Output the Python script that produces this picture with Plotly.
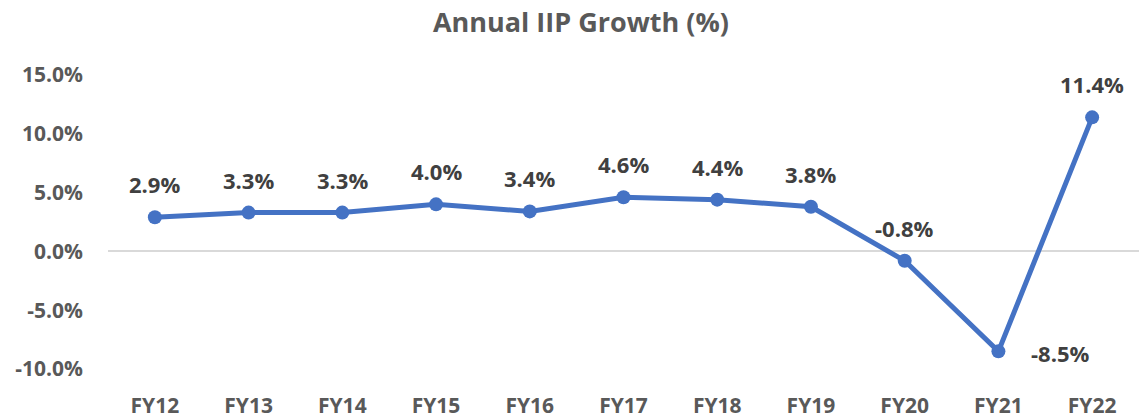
import plotly.graph_objects as go

categories = ["FY12", "FY13", "FY14", "FY15", "FY16", "FY17", "FY18", "FY19", "FY20", "FY21", "FY22"]
growth = [2.9, 3.3, 3.3, 4.0, 3.4, 4.6, 4.4, 3.8, -0.8, -8.5, 11.4]
y_ticks = [-10, -5, 0, 5, 10, 15]
y_tick_labels = ["-10.0%", "-5.0%", "0.0%", "5.0%", "10.0%", "15.0%"]

FONT = "Open Sans"
fig = go.Figure()
fig.add_trace(go.Scatter(
    x=categories, y=growth, mode="lines+markers",
    line=dict(color="#4472C4", width=5),
    marker=dict(color="#4472C4", size=14),
    hoverinfo="skip", showlegend=False,
))

for c, v in zip(categories, growth):
    if v < -5:
        xs, ys = 62, -2
    else:
        xs, ys = 0, 33
    fig.add_annotation(x=c, y=v, text=f"{v:.1f}%", showarrow=False,
                       xshift=xs, yshift=ys,
                       font=dict(family=FONT, size=22, color="#404040", weight="bold"))

fig.update_layout(
    width=1139, height=419,
    margin=dict(l=108, r=0, t=75, b=50),
    paper_bgcolor="white", plot_bgcolor="white",
    title=dict(text="Annual IIP Growth (%)", x=0.51, xanchor="center",
               y=0.945, yanchor="middle",
               font=dict(family=FONT, size=27, color="#595959", weight="bold")),
    xaxis=dict(type="category", range=[-0.5, 10.5], showgrid=False, showline=False,
               ticks="", ticklabelstandoff=22,
               tickfont=dict(family=FONT, size=21, color="#595959", weight="bold")),
    yaxis=dict(range=[-10, 15], tickvals=y_ticks, ticktext=y_tick_labels,
               showgrid=False, zeroline=True, zerolinecolor="#D9D9D9", zerolinewidth=1.5,
               showline=False, ticks="", ticklabelstandoff=24,
               tickfont=dict(family=FONT, size=21, color="#595959", weight="bold")),
)
fig.write_html("out.html")
